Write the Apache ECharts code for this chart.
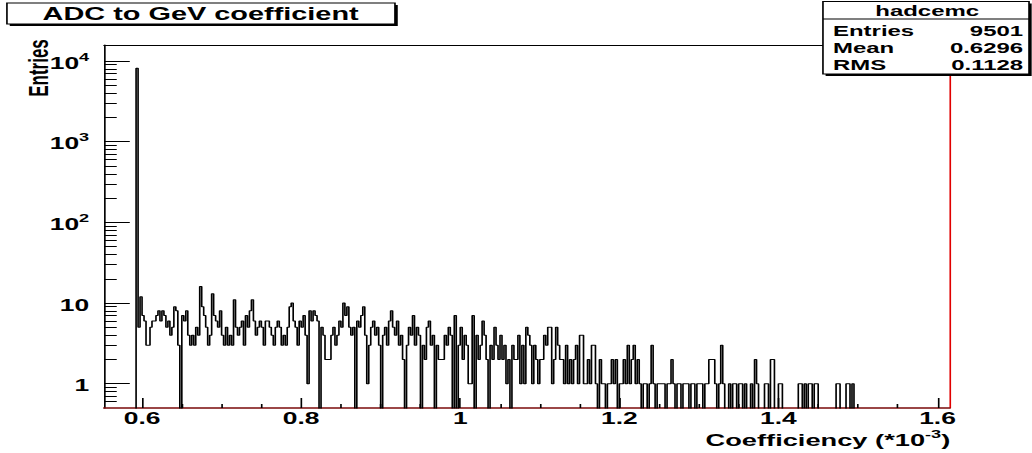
<!DOCTYPE html>
<html>
<head>
<meta charset="utf-8">
<script src="https://cdn.jsdelivr.net/npm/echarts@6/dist/echarts.min.js"></script>
<style>
html,body{margin:0;padding:0;background:#fff;overflow:hidden;}
#wrap{width:1032px;height:453px;overflow:hidden;position:relative;}
#chart{width:625px;height:453px;transform:scaleX(1.6512);transform-origin:0 0;}
</style>
</head>
<body>
<div id="wrap"><div id="chart"></div></div>
<script>
// ---- data ----
const X_MIN = 0.5522, X_MAX = 1.615;
const Y_MIN = 0.5, Y_MAX = 15800;
const BIN_START = 0.5925, BIN_WIDTH = 0.0025;
const COUNTS = [
  8150,
  5, 12, 7, 6, 3, 3, 5, 6, 6, 7,
  8, 6, 8, 7, 5, 6, 4, 5, 9, 8,
  3, 0, 7, 6, 8, 4, 3, 4, 3, 5,
  4, 16, 9, 7, 5, 3, 4, 13, 7, 6,
  5, 8, 4, 3, 5, 3, 4, 3, 11, 5,
  4, 5, 6, 3, 7, 5, 8, 11, 6, 4,
  5, 6, 5, 3, 6, 6, 5, 4, 3, 5,
  6, 5, 3, 4, 3, 5, 9, 10, 6, 5,
  3, 6, 5, 7, 4, 1, 8, 6, 8, 7,
  6, 0, 5, 4, 2, 2, 2, 4, 5, 3,
  4, 6, 5, 10, 7, 9, 5, 4, 5, 0,
  6, 5, 7, 9, 4, 1, 3, 5, 6, 4,
  5, 3, 0, 4, 5, 3, 6, 8, 5, 4,
  6, 3, 4, 2, 0, 3, 5, 4, 7, 3,
  5, 4, 0, 3, 2, 5, 6, 3, 4, 0,
  3, 2, 2, 2, 4, 3, 5, 4, 0, 7,
  0, 3, 5, 2, 4, 3, 1, 1, 7, 0,
  4, 2, 3, 6, 4, 2, 0, 3, 2, 5,
  3, 2, 4, 2, 3, 1, 2, 0, 3, 2,
  2, 4, 1, 3, 1, 5, 4, 3, 1, 3,
  2, 1, 2, 2, 4, 3, 5, 5, 1, 2,
  5, 3, 2, 2, 1, 3, 1, 2, 1, 2,
  3, 1, 4, 4, 1, 1, 2, 1, 3, 3,
  1, 0, 2, 1, 1, 0, 1, 1, 2, 1,
  2, 0, 1, 1, 2, 1, 3, 1, 2, 3,
  1, 2, 1, 0, 1, 1, 0, 1, 3, 1,
  0, 1, 1, 1, 1, 0, 1, 1, 2, 1,
  0, 1, 1, 0, 1, 1, 1, 0, 1, 1,
  0, 1, 1, 1, 0, 1, 1, 2, 2, 2,
  1, 0, 1, 3, 1, 0, 0, 1, 0, 1,
  1, 0, 1, 1, 0, 1, 0, 0, 1, 0,
  2, 1, 0, 0, 0, 1, 1, 0, 2, 2,
  0, 0, 1, 1, 0, 0, 0, 0, 0, 0,
  0, 0, 1, 1, 0, 1, 0, 1, 1, 0,
  1, 1, 0, 0, 0, 0, 0, 0, 0, 0,
  0, 1, 1, 0, 0, 0, 1, 1, 0, 1,
  0
];
const X_MAJOR = [0.6, 0.8, 1.0, 1.2, 1.4, 1.6];
const X_MINOR = [0.65, 0.7, 0.75, 0.85, 0.9, 0.95, 1.05, 1.1, 1.15, 1.25, 1.3, 1.35, 1.45, 1.5, 1.55];
const Y_MAJOR = [1, 10, 100, 1000, 10000];
const Y_MINOR = [0.6, 0.7, 0.8, 0.9, 2, 3, 4, 5, 6, 7, 8, 9, 20, 30, 40, 50, 60, 70, 80, 90,
                 200, 300, 400, 500, 600, 700, 800, 900, 2000, 3000, 4000, 5000, 6000, 7000, 8000, 9000];
const TITLE = 'ADC to GeV coefficient';
const X_TITLE = 'Coefficiency (*10';
const X_TITLE_SUP = '-3';
const Y_TITLE = 'Entries';
const STATS_NAME = 'hadcemc';
const STATS_ROWS = [['Entries', '9501'], ['Mean', '0.6296'], ['RMS', '0.1128']];

// ---- build ----
const FONT = 'Liberation Sans';
const ZERO_LEVEL = 0.1; // empty bins drawn down to the axis floor (clipped)
const histData = [[X_MIN, ZERO_LEVEL]];
COUNTS.forEach((c, i) => {
  histData.push([+(BIN_START + i * BIN_WIDTH).toFixed(5), c > 0 ? c : ZERO_LEVEL]);
});
histData.push([X_MAX, ZERO_LEVEL]);

const chart = echarts.init(document.getElementById('chart'), null, {renderer: 'svg', width: 625, height: 453});

const G = {left: 63, right: 50, top: 45, bottom: 45};
const boldTxt = (size) => ({fontFamily: FONT, fontWeight: 'bold', fontSize: size, color: '#000'});

const statsGraphics = [];
const SX = 498.4, SW = 124.8, SY = 1.5, SH = 72.5;
statsGraphics.push({type: 'rect', shape: {x: SX + 1.6, y: SY + 2, width: SW, height: SH}, style: {fill: '#000'}, z: 100});
statsGraphics.push({type: 'rect', shape: {x: SX, y: SY, width: SW, height: SH}, style: {fill: '#fff', stroke: '#000', lineWidth: 1}, z: 101});
statsGraphics.push({type: 'line', shape: {x1: SX, y1: 19, x2: SX + SW, y2: 19}, style: {stroke: '#000', lineWidth: 1}, z: 102});
statsGraphics.push({type: 'text', x: 561.5, y: 11, z: 102,
  style: {text: STATS_NAME, align: 'center', verticalAlign: 'middle', fill: '#000', font: 'bold 14.5px "' + FONT + '"'}});
STATS_ROWS.forEach((r, i) => {
  const y = 30.5 + i * 17.2;
  statsGraphics.push({type: 'text', x: 504.5, y: y, z: 102,
    style: {text: r[0], align: 'left', verticalAlign: 'middle', fill: '#000', font: 'bold 14.5px "' + FONT + '"'}});
  statsGraphics.push({type: 'text', x: 619.6, y: y, z: 102,
    style: {text: r[1], align: 'right', verticalAlign: 'middle', fill: '#000', font: 'bold 14.5px "' + FONT + '"'}});
});

const option = {
  animation: false,
  backgroundColor: '#fff',
  grid: G,
  xAxis: [
    {
      type: 'value', min: X_MIN, max: X_MAX, position: 'bottom',
      axisLine: {show: true, onZero: false, lineStyle: {color: '#7a0a0a', width: 1.5}},
      axisTick: {show: true, inside: true, length: 10, customValues: X_MAJOR, lineStyle: {color: '#000', width: 1}},
      axisLabel: Object.assign({customValues: X_MAJOR, margin: 3, lineHeight: 16, formatter: v => String(+(+v).toFixed(1))}, boldTxt(16)),
      splitLine: {show: false}
    },
    {
      type: 'value', min: X_MIN, max: X_MAX, position: 'bottom',
      axisLine: {show: false, onZero: false},
      axisTick: {show: true, inside: true, length: 4, customValues: X_MINOR, lineStyle: {color: '#000', width: 1}},
      axisLabel: {show: false}, splitLine: {show: false}
    },
    {
      type: 'value', min: X_MIN, max: X_MAX, position: 'top',
      axisLine: {show: true, onZero: false, lineStyle: {color: '#000', width: 1}},
      axisTick: {show: false}, axisLabel: {show: false}, splitLine: {show: false}
    }
  ],
  yAxis: [
    {
      type: 'log', logBase: 10, min: Y_MIN, max: Y_MAX, position: 'left',
      axisLine: {show: true, onZero: false, lineStyle: {color: '#000', width: 1}},
      axisTick: {show: true, inside: true, length: 15.6, customValues: Y_MAJOR, lineStyle: {color: '#000', width: 1}},
      axisLabel: {
        customValues: Y_MAJOR, margin: 9,
        formatter: v => {
          const e = Math.round(Math.log10(v));
          if (e >= 2) return '{b|10}{s|' + e + '}';
          return '{b|' + (e === 1 ? '10' : '1') + '}';
        },
        rich: {
          b: Object.assign({lineHeight: 20, verticalAlign: 'bottom'}, boldTxt(16)),
          s: Object.assign({lineHeight: 20, verticalAlign: 'top'}, boldTxt(11))
        }
      },
      splitLine: {show: false}
    },
    {
      type: 'log', logBase: 10, min: Y_MIN, max: Y_MAX, position: 'left',
      axisLine: {show: false, onZero: false},
      axisTick: {show: true, inside: true, length: 7.7, customValues: Y_MINOR, lineStyle: {color: '#000', width: 1}},
      axisLabel: {show: false}, splitLine: {show: false}
    },
    {
      type: 'log', logBase: 10, min: Y_MIN, max: Y_MAX, position: 'right',
      axisLine: {show: true, onZero: false, lineStyle: {color: '#e00000', width: 1}},
      axisTick: {show: false}, axisLabel: {show: false}, splitLine: {show: false}
    }
  ],
  series: [{
    type: 'line', step: 'end', xAxisIndex: 0, yAxisIndex: 0,
    data: histData, showSymbol: false, symbol: 'none', clip: true,
    lineStyle: {color: '#000', width: 1}, z: 3
  }],
  graphic: [
    // title box
    {type: 'rect', shape: {x: 5.9, y: 5, width: 235, height: 21}, style: {fill: '#000'}, z: 100},
    {type: 'rect', shape: {x: 4.2, y: 3, width: 235, height: 21}, style: {fill: '#fff', stroke: '#000', lineWidth: 1}, z: 101},
    {type: 'text', x: 121.5, y: 14, z: 102,
      style: {text: TITLE, align: 'center', verticalAlign: 'middle', fill: '#000', font: 'bold 17.5px "' + FONT + '"'}},
    // y title
    {type: 'text', x: 23, y: 68, rotation: Math.PI / 2, z: 102,
      style: {text: Y_TITLE, align: 'center', verticalAlign: 'middle', fill: '#000', font: 'bold 17px "' + FONT + '"'}},
    // x title
    {type: 'text', x: 575.5, y: 438.5, z: 102,
      style: {
        text: '{a|' + X_TITLE + '}{s|' + X_TITLE_SUP + '}{a|)}',
        align: 'right', verticalAlign: 'middle',
        rich: {
          a: {fontFamily: FONT, fontWeight: 'bold', fontSize: 16.5, fill: '#000', lineHeight: 21, verticalAlign: 'bottom'},
          s: {fontFamily: FONT, fontWeight: 'bold', fontSize: 11, fill: '#000', lineHeight: 21, verticalAlign: 'top'}
        }
      }}
  ].concat(statsGraphics)
};
chart.setOption(option);
</script>
</body>
</html>
